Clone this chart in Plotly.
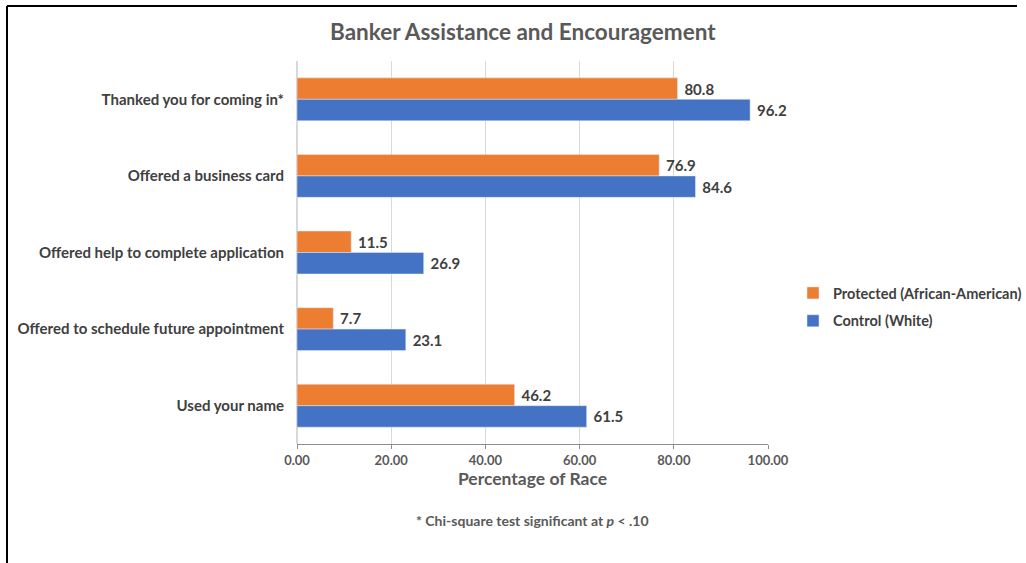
import plotly.graph_objects as go

categories = [
    "Thanked you for coming in*",
    "Offered a business card",
    "Offered help to complete application",
    "Offered to schedule future appointment",
    "Used your name",
]
protected_vals = [80.8, 76.9, 11.5, 7.7, 46.2]
control_vals = [96.2, 84.6, 26.9, 23.1, 61.5]
series_names = ["Protected (African-American)", "Control (White)"]
x_ticks = [0, 20, 40, 60, 80, 100]

FONT = "Lato"
W, H = 1026, 563
L, R, T, B = 297, 258, 61, 119
pw, ph = W - L - R, H - T - B

def px_x(p):
    return (p - L) / pw

def px_y(p):
    return (H - B - p) / ph

fig = go.Figure()
fig.add_trace(go.Bar(
    y=categories, x=protected_vals, name=f"<b>{series_names[0]}</b>", orientation="h",
    marker=dict(color="#ED7D31"), text=[f"{v:.1f}" for v in protected_vals],
    textposition="outside", cliponaxis=False, legendgroup="a",
    textfont=dict(family=FONT, size=15, color="#404040"),
))
fig.add_trace(go.Bar(
    y=categories, x=control_vals, name=f"<b>{series_names[1]}</b>", orientation="h",
    marker=dict(color="#4472C4"), text=[f"{v:.1f}" for v in control_vals],
    textposition="outside", cliponaxis=False, legendgroup="b",
    textfont=dict(family=FONT, size=15, color="#404040"),
))

fig.update_layout(
    width=W, height=H,
    margin=dict(l=L, r=R, t=T, b=B, autoexpand=False),
    barmode="group", bargap=0.44, bargroupgap=0,
    plot_bgcolor="white", paper_bgcolor="white",
    font=dict(family=FONT, color="#595959"),
    showlegend=True,
    legend=dict(x=px_x(793), y=px_y(307), xanchor="left", yanchor="middle",
                font=dict(family=FONT, size=14.5, color="#404040"),
                traceorder="grouped", itemwidth=30, tracegroupgap=6),
)
fig.update_traces(texttemplate="\u00a0<b>%{text}</b>")
fig.update_xaxes(
    range=[0, 100], tickvals=x_ticks, ticktext=[f"<b>{v:.2f}</b>" for v in x_ticks],
    showgrid=True, gridcolor="#D9D9D9", gridwidth=1,
    zeroline=True, zerolinecolor="#D9D9D9",
    showline=True, linecolor="#8C8C8C", linewidth=1,
    ticks="outside", ticklen=4, tickcolor="#8C8C8C",
    tickfont=dict(family=FONT, size=13, color="#595959"),
    title=dict(text="<b>Percentage of Race</b>", font=dict(family=FONT, size=17.5, color="#595959"), standoff=6),
)
fig.update_yaxes(
    autorange="reversed", showgrid=False, showline=False, ticks="",
    ticklabelstandoff=12,
    tickvals=categories, ticktext=[f"<b>{c}</b>" for c in categories],
    tickfont=dict(family=FONT, size=15, color="#404040"),
)

fig.add_annotation(text="<b>Banker Assistance and Encouragement</b>", xref="paper", yref="paper",
                   x=px_x(523), y=px_y(32), xanchor="center", yanchor="middle", showarrow=False,
                   font=dict(family=FONT, size=22.5, color="#595959"))
fig.add_annotation(text="<b>* Chi-square test significant at <i>p</i> < .10</b>", xref="paper", yref="paper",
                   x=px_x(532), y=px_y(520), xanchor="center", yanchor="middle", showarrow=False,
                   font=dict(family=FONT, size=14, color="#595959"))

# frame lines (top and left)
fig.add_shape(type="line", xref="paper", yref="paper", x0=px_x(7), x1=px_x(1017), y0=px_y(6), y1=px_y(6),
              line=dict(color="black", width=2))
fig.add_shape(type="line", xref="paper", yref="paper", x0=px_x(7), x1=px_x(7), y0=px_y(6), y1=px_y(563),
              line=dict(color="black", width=2))

fig.write_html("out.html", config={"displayModeBar": False},
               post_script="document.body.style.margin='0px';document.body.style.overflow='hidden';")
